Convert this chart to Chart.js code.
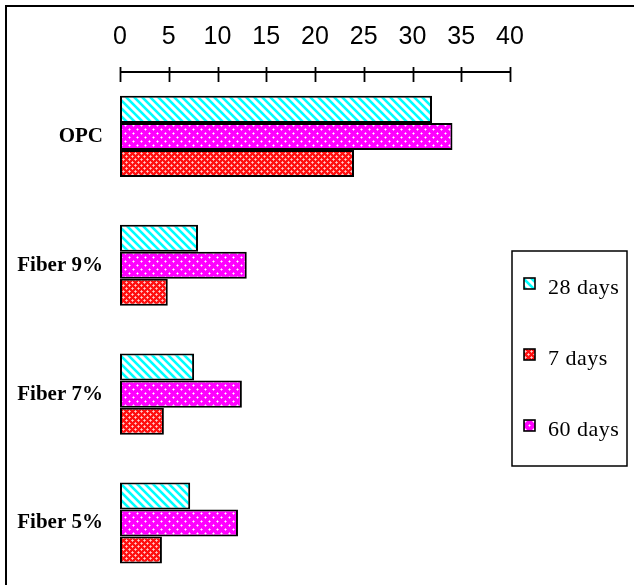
<!DOCTYPE html>
<html>
<head>
<meta charset="utf-8">
<script src="https://cdn.jsdelivr.net/npm/chart.js@4.4.1/dist/chart.umd.min.js"></script>
<style>
  html, body { margin: 0; padding: 0; background: #fff; overflow: hidden; }
  #wrap { position: relative; width: 634px; height: 617px; }
</style>
</head>
<body>
<div id="wrap"><canvas id="c" width="634" height="617"></canvas></div>
<script>
// Mixes and strength readings per curing age
const categories = ['OPC', 'Fiber 9%', 'Fiber 7%', 'Fiber 5%'];
const days28 = [32.0, 8.0, 7.6, 7.2];
const days60 = [34.1, 13.0, 12.5, 12.1];
const days7  = [24.0, 4.9, 4.5, 4.3];
const xTicks = [0, 5, 10, 15, 20, 25, 30, 35, 40];
const legendOrder = ['28 days', '7 days', '60 days'];

// Fill patterns for the bars
function makePattern(w, h, base, paint) {
  const c = document.createElement('canvas');
  c.width = w; c.height = h;
  const g = c.getContext('2d');
  g.fillStyle = base;
  g.fillRect(0, 0, w, h);
  paint(g, w, h);
  return document.getElementById('c').getContext('2d').createPattern(c, 'repeat');
}

// cyan with white "\" stripes
const stripeCyan = makePattern(8, 8, '#00ffff', (g, w, h) => {
  for (let y = 0; y < h; y++) {
    for (let x = 0; x < w; x++) {
      const k = ((x - y) % 8 + 8) % 8;
      if (k < 3) { g.fillStyle = '#ffffff'; g.fillRect(x, y, 1, 1); }
      else if (k === 3 || k === 7) { g.fillStyle = '#aaffff'; g.fillRect(x, y, 1, 1); }
    }
  }
});

// magenta with staggered white dots
const dotMagenta = makePattern(8, 8, '#ff00ff', (g) => {
  g.fillStyle = 'rgba(255,255,255,0.55)';
  [[1, 1], [5, 5]].forEach(([x, y]) => {
    g.fillRect(x - 1, y, 3, 1);
    g.fillRect(x, y - 1, 1, 3);
  });
  g.fillStyle = '#ffffff';
  [[1, 1], [5, 5]].forEach(([x, y]) => g.fillRect(x, y, 1, 1));
});

// red with white lattice of small crosses
const latticeRed = makePattern(6, 6, '#ff1010', (g) => {
  g.fillStyle = '#ffd0d0';
  [[0, 0], [3, 3]].forEach(([x, y]) => g.fillRect(x, y, 1, 1));
  g.fillStyle = 'rgba(255,170,170,0.9)';
  [[1, 0], [0, 1], [5, 0], [0, 5], [4, 3], [3, 4], [2, 3], [3, 2]].forEach(([x, y]) => g.fillRect(x, y, 1, 1));
});

const datasets = [
  { label: '28 days', data: days28, backgroundColor: stripeCyan },
  { label: '60 days', data: days60, backgroundColor: dotMagenta },
  { label: '7 days',  data: days7,  backgroundColor: latticeRed }
].map(d => Object.assign(d, {
  borderColor: '#000000',
  borderWidth: 2,
  borderSkipped: false,
  categoryPercentage: 0.63,
  barPercentage: 1.0
}));

// Frame, top value axis with crossing ticks, and boxed legend
const decorations = {
  id: 'decorations',
  afterDatasetsDraw(chart) {
    // category labels (drawn in a later layer) use slightly open spacing
    chart.ctx.letterSpacing = '1.2px';
  },
  afterDraw(chart) {
    const ctx = chart.ctx;
    const xs = chart.scales.x;
    const top = chart.chartArea.top;
    ctx.save();
    ctx.strokeStyle = '#000';

    // outer frame (top and left edges)
    ctx.lineWidth = 2;
    ctx.beginPath();
    ctx.moveTo(6, chart.height);
    ctx.lineTo(6, 6);
    ctx.lineTo(chart.width, 6);
    ctx.stroke();

    // value axis
    ctx.lineWidth = 1.8;
    ctx.beginPath();
    ctx.moveTo(xs.getPixelForValue(xTicks[0]), top);
    ctx.lineTo(xs.getPixelForValue(xTicks[xTicks.length - 1]), top);
    xTicks.forEach(v => {
      const px = Math.round(xs.getPixelForValue(v)) + 0.5;
      ctx.moveTo(px, top - 5);
      ctx.lineTo(px, top + 10);
    });
    ctx.stroke();

    // legend box
    ctx.lineWidth = 1.5;
    ctx.strokeRect(512, 251, 115, 215);
    ctx.font = '22px "Liberation Serif", "Times New Roman", serif';
    ctx.letterSpacing = '0.5px';
    ctx.textBaseline = 'alphabetic';
    ctx.textAlign = 'left';
    legendOrder.forEach((name, i) => {
      const ds = chart.data.datasets.find(d => d.label === name);
      const base = 294 + i * 71;
      ctx.fillStyle = ds.backgroundColor;
      ctx.fillRect(524, base - 16, 11, 11);
      ctx.lineWidth = 1.6;
      ctx.strokeRect(524, base - 16, 11, 11);
      ctx.fillStyle = '#000';
      ctx.fillText(name, 548, base);
    });
    ctx.restore();
    ctx.letterSpacing = '0px';
  }
};

new Chart(document.getElementById('c'), {
  type: 'bar',
  data: { labels: categories, datasets },
  options: {
    indexAxis: 'y',
    responsive: false,
    animation: false,
    layout: { padding: { top: 0, right: 124, bottom: 0, left: 0 } },
    plugins: { legend: { display: false }, tooltip: { enabled: false } },
    scales: {
      x: {
        position: 'top',
        min: 0,
        max: 40,
        afterBuildTicks(scale) { scale.ticks = xTicks.map(v => ({ value: v })); },
        afterFit(scale) { scale.height = 72; },
        grid: { display: false, drawTicks: false },
        border: { display: false },
        ticks: {
          padding: 20,
          color: '#000',
          maxRotation: 0,
          autoSkip: false,
          font: { family: '"Liberation Sans", Arial, sans-serif', size: 25 }
        }
      },
      y: {
        z: 1,
        afterFit(scale) { scale.width = 120; },
        grid: { display: false, drawTicks: false },
        border: { display: false },
        ticks: {
          padding: 17,
          color: '#000',
          font: { family: '"Liberation Serif", "Times New Roman", serif', size: 21, weight: 'bold' }
        }
      }
    }
  },
  plugins: [decorations]
});
</script>
</body>
</html>
